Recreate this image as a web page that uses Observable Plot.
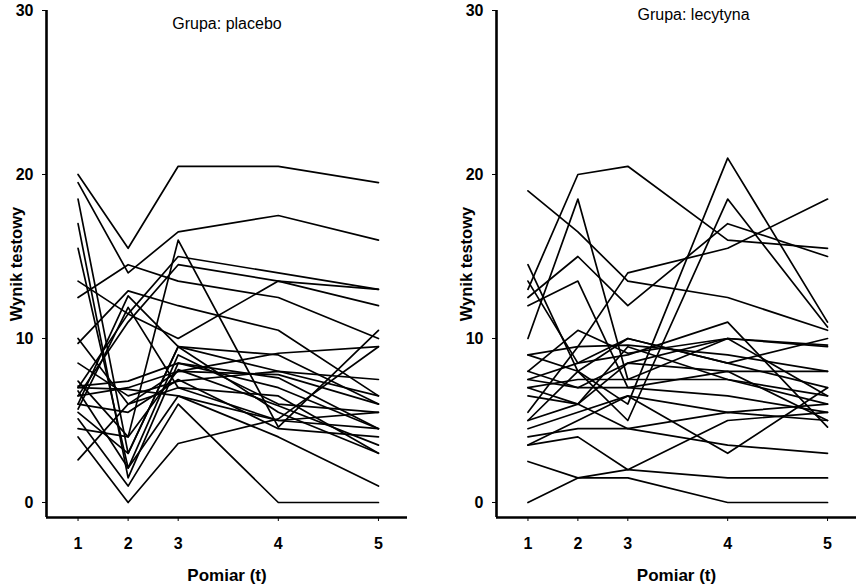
<!DOCTYPE html>
<html>
<head>
<meta charset="utf-8">
<script src="https://cdn.jsdelivr.net/npm/d3@7"></script>
<script src="https://cdn.jsdelivr.net/npm/@observablehq/plot@0.6"></script>
<style>
  html, body { margin: 0; padding: 0; background: #fff; }
  #chart { position: relative; width: 856px; height: 585px; font-family: "Liberation Sans", Arial, sans-serif; }
  #chart svg { position: absolute; top: 0; overflow: visible; }
</style>
</head>
<body>
<div id="chart"></div>
<script>
// measurement times (spacing as in the figure) and their labels
const times = [0, 1, 2, 4, 6];
const tickLabels = ["1", "2", "3", "4", "5"];
const yTicks = [0, 10, 20, 30];
const xDomain = [-0.63, 6.58];
const yDomain = [-0.915, 30];
const titles = ["Grupa: placebo", "Grupa: lecytyna"];
const yLabel = "Wynik testowy";
const xLabel = "Pomiar (t)";

// Placebo group: one row per subject, values at measurements 1..5
const placebo = [
  [20.0, 15.5, 20.5, 20.5, 19.5],
  [19.5, 14.0, 16.5, 17.5, 16.0],
  [12.5, 14.5, 13.5, 12.5, 10.0],
  [7.0, 11.5, 15.0, 14.0, 13.0],
  [6.5, 11.0, 14.5, 13.5, 12.0],
  [13.5, 11.5, 10.0, 13.5, 13.0],
  [9.7, 12.9, 12.0, 10.5, 6.5],
  [7.4, 4.0, 16.0, 4.6, 10.5],
  [18.5, 3.0, 9.5, 9.0, 6.0],
  [17.0, 1.5, 8.5, 7.6, 4.5],
  [15.5, 2.1, 9.0, 6.0, 5.5],
  [10.0, 6.0, 8.0, 9.1, 9.5],
  [8.5, 6.5, 7.4, 8.0, 7.5],
  [7.1, 7.4, 8.5, 7.0, 4.5],
  [6.8, 2.1, 6.5, 4.0, 1.0],
  [5.1, 1.0, 6.0, 0.0, 0.0],
  [4.0, 0.0, 3.6, 5.1, 9.5],
  [2.6, 6.0, 7.0, 6.5, 3.0],
  [4.5, 4.0, 8.1, 5.9, 3.5],
  [6.0, 12.6, 9.5, 5.5, 3.0],
  [5.7, 11.9, 7.0, 5.0, 4.5],
  [6.5, 7.0, 8.0, 7.8, 6.0],
  [5.5, 3.0, 9.5, 8.0, 6.5],
  [7.0, 6.9, 6.5, 5.0, 5.5],
  [6.0, 5.5, 7.5, 4.5, 4.0]
];

// Lecithin group
const lecytyna = [
  [13.0, 20.0, 20.5, 16.0, 15.5],
  [19.0, 16.5, 13.5, 12.5, 10.5],
  [10.0, 18.5, 7.5, 10.0, 9.5],
  [12.5, 15.0, 12.0, 17.0, 15.0],
  [14.5, 8.0, 6.0, 21.0, 11.0],
  [5.0, 8.0, 5.0, 18.5, 10.7],
  [12.0, 13.5, 7.0, 8.0, 5.0],
  [5.5, 9.5, 14.0, 15.5, 18.5],
  [0.0, 1.5, 2.0, 5.0, 5.5],
  [2.5, 1.5, 1.5, 0.0, 0.0],
  [3.5, 4.0, 2.0, 1.5, 1.5],
  [4.0, 4.5, 4.5, 3.5, 3.0],
  [4.5, 5.5, 6.5, 3.0, 7.0],
  [3.5, 5.0, 6.5, 5.5, 6.0],
  [13.5, 8.5, 9.0, 11.0, 4.6],
  [9.0, 9.5, 9.6, 9.0, 8.0],
  [8.0, 10.5, 9.1, 10.0, 9.6],
  [7.5, 8.5, 10.0, 8.5, 10.0],
  [7.5, 7.0, 8.5, 10.0, 6.5],
  [7.0, 7.5, 7.5, 7.5, 6.0],
  [6.5, 6.0, 8.5, 8.0, 8.0],
  [8.0, 7.0, 7.0, 6.5, 5.5],
  [5.0, 6.0, 4.5, 5.5, 5.0],
  [9.0, 8.0, 10.0, 8.5, 7.0],
  [7.0, 6.0, 9.5, 7.5, 6.5]
];

function toRows(group) {
  return group.flatMap((vals, id) => vals.map((v, i) => ({id, t: times[i], v})));
}

function panel(group, opts) {
  const rows = toRows(group);
  return Plot.plot({
    width: opts.width,
    height: 585,
    marginTop: 10,
    marginBottom: 68,
    marginLeft: 46,
    marginRight: opts.marginRight,
    style: {fontFamily: '"Liberation Sans", Arial, sans-serif', color: "#000", background: "transparent"},
    x: {domain: xDomain},
    y: {domain: yDomain},
    marks: [
      Plot.line(rows, {x: "t", y: "v", z: "id", stroke: "#000", strokeWidth: 1.7}),
      Plot.ruleX([xDomain[0]], {y1: yDomain[0], y2: yDomain[1], stroke: "#000", strokeWidth: 2.6}),
      Plot.ruleY([yDomain[0]], {stroke: "#000", strokeWidth: 2.6}),
      Plot.axisY({ticks: yTicks, tickSize: 4, tickPadding: 9, fontSize: 16, fontWeight: "bold", label: null, stroke: "#000"}),
      Plot.axisX({ticks: times, tickFormat: (d) => tickLabels[times.indexOf(d)], tickSize: 4, tickPadding: 16, fontSize: 16, fontWeight: "bold", label: null, stroke: "#000"}),
      Plot.text([yLabel], {frameAnchor: "left", dx: -30, rotate: -90, textAnchor: "middle", lineAnchor: "middle", fontSize: 16.5, fontWeight: "bold", fill: "#000"}),
      Plot.text([xLabel], {frameAnchor: "bottom", dy: 58, textAnchor: "middle", lineAnchor: "middle", fontSize: 17, fontWeight: "bold", fill: "#000"}),
      Plot.text([opts.title], {frameAnchor: "top", dx: opts.titleDx, dy: opts.titleDy, textAnchor: "middle", lineAnchor: "middle", fontSize: 16, fill: "#000"})
    ]
  });
}

const root = document.getElementById("chart");
const left = panel(placebo, {width: 428, marginRight: 21, title: titles[0], titleDx: 0, titleDy: 13});
left.style.left = "0px";
root.appendChild(left);
const right = panel(lecytyna, {width: 406, marginRight: 0, title: titles[1], titleDx: 17, titleDy: 4});
right.style.left = "450px";
root.appendChild(right);
</script>
</body>
</html>
